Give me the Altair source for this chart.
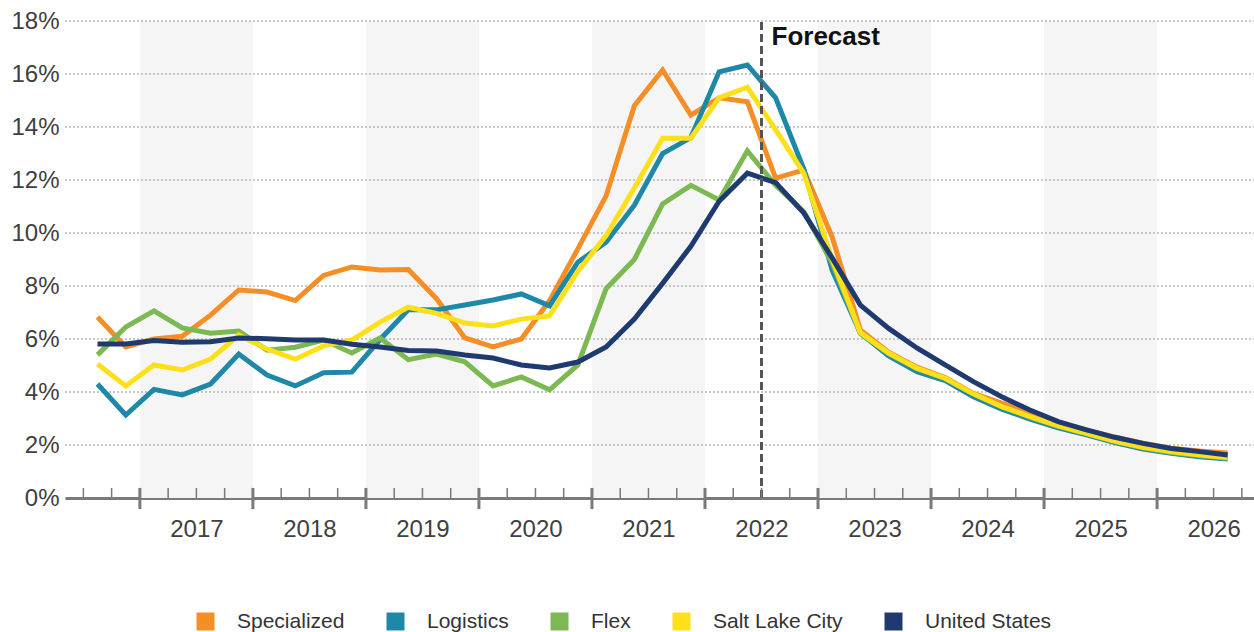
import altair as alt
import pandas as pd

# Quarterly periods, 2016 Q3 through 2026 Q3
quarters = [f"{y}Q{q}" for y in range(2016, 2027) for q in range(1, 5)]
quarters = quarters[2:43]

series_names = ["Specialized", "Logistics", "Flex", "Salt Lake City", "United States"]
series_colors = ["#F58E26", "#1F88A8", "#7DB952", "#FDDF1A", "#1E3A6F"]

specialized = [6.83, 5.70, 6.00, 6.10, 6.90, 7.85, 7.77, 7.45, 8.40, 8.72,
               8.60, 8.62, 7.52, 6.04, 5.70, 6.00, 7.45, 9.40, 11.40, 14.80,
               16.15, 14.45, 15.10, 14.95, 12.07, 12.38, 9.85, 6.34, 5.50, 4.94,
               4.55, 3.95, 3.58, 3.22, 2.83, 2.57, 2.30, 2.07, 1.88, 1.77, 1.70]
logistics = [4.30, 3.13, 4.10, 3.89, 4.30, 5.43, 4.64, 4.23, 4.73, 4.75,
             5.98, 7.10, 7.10, 7.28, 7.47, 7.70, 7.25, 8.90, 9.65, 11.05,
             13.00, 13.60, 16.08, 16.34, 15.10, 12.40, 8.60, 6.22, 5.36, 4.77,
             4.43, 3.82, 3.35, 2.98, 2.65, 2.38, 2.09, 1.85, 1.69, 1.56, 1.47]
flex = [5.40, 6.45, 7.06, 6.42, 6.22, 6.30, 5.58, 5.69, 5.96, 5.47,
        6.04, 5.22, 5.43, 5.14, 4.23, 4.57, 4.08, 5.02, 7.90, 9.00,
        11.10, 11.80, 11.25, 13.10, 11.80, 10.80, 8.87, 6.20, 5.45, 4.88,
        4.50, 3.92, 3.45, 3.05, 2.70, 2.42, 2.13, 1.89, 1.72, 1.60, 1.50]
salt_lake_city = [5.06, 4.23, 5.02, 4.83, 5.24, 6.15, 5.62, 5.24, 5.74, 5.96,
                  6.64, 7.20, 6.97, 6.60, 6.49, 6.75, 6.87, 8.55, 9.90, 11.70,
                  13.58, 13.58, 15.10, 15.50, 13.90, 12.25, 9.00, 6.24, 5.47, 4.90,
                  4.52, 3.93, 3.45, 3.07, 2.72, 2.44, 2.15, 1.91, 1.75, 1.62, 1.53]
united_states = [5.81, 5.81, 5.94, 5.88, 5.90, 6.04, 6.01, 5.96, 5.96, 5.80,
                 5.70, 5.57, 5.55, 5.40, 5.28, 5.02, 4.91, 5.13, 5.70, 6.75,
                 8.10, 9.50, 11.20, 12.26, 11.90, 10.75, 9.06, 7.28, 6.40, 5.66,
                 5.02, 4.39, 3.82, 3.32, 2.88, 2.57, 2.29, 2.06, 1.87, 1.75, 1.62]

year_labels = list(range(2017, 2027))
shaded_years = [2017, 2019, 2021, 2023, 2025]
y_ticks = list(range(0, 20, 2))
forecast_start = 2022.5
forecast_label = "Forecast"

X_DOMAIN = [2016.3375, 2026.8575]
Y_DOMAIN = [0, 18]
W, H = 1189, 477
FONT = "Liberation Sans"


def quarter_mid(label):
    year, q = label.split("Q")
    return int(year) + (int(q) - 0.5) / 4


rows = []
for name, values in zip(series_names, [specialized, logistics, flex, salt_lake_city, united_states]):
    for order, (qt, v) in enumerate(zip(quarters, values)):
        rows.append({"quarter": qt, "t": quarter_mid(qt), "series": name, "value": v, "order": order})
lines_df = pd.DataFrame(rows)

bands_df = pd.DataFrame({"start": shaded_years, "end": [y + 1 for y in shaded_years],
                         "lo": Y_DOMAIN[0], "hi": Y_DOMAIN[1]})
grid_df = pd.DataFrame({"v": y_ticks[1:]})

# quarter boundaries along the time axis
boundaries = [2016.5 + k / 4 for k in range(0, 42)]
minor_df = pd.DataFrame({"t": [b for b in boundaries if b != int(b)], "y0": 0.0, "y1": 0.38})
major_df = pd.DataFrame({"t": [b for b in boundaries if b == int(b)], "y0": -0.42, "y1": 0.38})

xs = alt.Scale(domain=X_DOMAIN, nice=False, zero=False)
ys = alt.Scale(domain=Y_DOMAIN, nice=False)

x_axis = alt.Axis(values=[y + 0.5 for y in year_labels], labelExpr="floor(datum.value)",
                  ticks=False, grid=False, domain=True, domainColor="#7A7A7A",
                  domainWidth=3, labelFontSize=24, labelColor="#404040", labelFont=FONT,
                  labelPadding=19, labelFlush=False, title=None)
y_axis = alt.Axis(values=y_ticks, labelExpr="datum.value + '%'", ticks=False, grid=False,
                  domain=False, labelFontSize=24, labelColor="#404040", labelFont=FONT,
                  labelPadding=6, title=None)


def X(field):
    return alt.X(field, scale=xs, axis=x_axis, title=None)


def Y(field):
    return alt.Y(field, scale=ys, axis=y_axis, title=None)


bands = alt.Chart(bands_df).mark_rect(color="#F5F5F5").encode(
    x=X("start:Q"), x2="end:Q", y=Y("lo:Q"), y2="hi:Q")

grid = alt.Chart(grid_df).mark_rule(color="#B8B8B8", strokeWidth=1.3, strokeDash=[2, 2]).encode(
    y=Y("v:Q"), x=alt.value(0), x2=alt.value(W))

lines = alt.Chart(lines_df).mark_line(strokeWidth=5).encode(
    x=X("t:Q"),
    y=Y("value:Q"),
    color=alt.Color("series:N", scale=alt.Scale(domain=series_names, range=series_colors),
                    sort=series_names,
                    legend=alt.Legend(orient="none", legendX=130, legendY=590, direction="horizontal",
                                      title=None, symbolType="square", symbolSize=81,
                                      symbolStrokeWidth=9, labelFontSize=21, labelColor="#333333",
                                      labelFont=FONT, labelOffset=21, columnPadding=28)),
    order="order:Q",
    detail="series:N",
)

forecast_rule = alt.Chart(pd.DataFrame({"t": [forecast_start], "lo": Y_DOMAIN[0], "hi": Y_DOMAIN[1]})).mark_rule(
    color="#555555", strokeWidth=3, strokeDash=[8, 4]).encode(
    x=X("t:Q"), y=Y("lo:Q"), y2="hi:Q")

forecast_text = alt.Chart(pd.DataFrame({"t": [forecast_start], "v": [17.1], "txt": [forecast_label]})).mark_text(
    align="left", baseline="alphabetic", dx=10, fontSize=26, fontWeight="bold", font=FONT,
    color="#111111").encode(x=X("t:Q"), y=Y("v:Q"), text="txt:N")

minor_ticks = alt.Chart(minor_df).mark_rule(color="#7A7A7A", strokeWidth=1.5).encode(
    x=X("t:Q"), y=Y("y0:Q"), y2="y1:Q")
major_ticks = alt.Chart(major_df).mark_rule(color="#7A7A7A", strokeWidth=3).encode(
    x=X("t:Q"), y=Y("y0:Q"), y2="y1:Q")

chart = (
    alt.layer(bands, grid, lines, forecast_rule, minor_ticks, major_ticks, forecast_text)
    .properties(
        width=W, height=H,
        background="white",
        padding={"left": 65, "top": 21, "right": 0, "bottom": 134},
        autosize=alt.AutoSizeParams(type="none"),
    )
    .configure_view(strokeWidth=0, strokeOpacity=0)
    .configure_axisY(domain=False, ticks=False, grid=False)
)

chart.save("out.html", embed_options={"renderer": "svg", "actions": False})
